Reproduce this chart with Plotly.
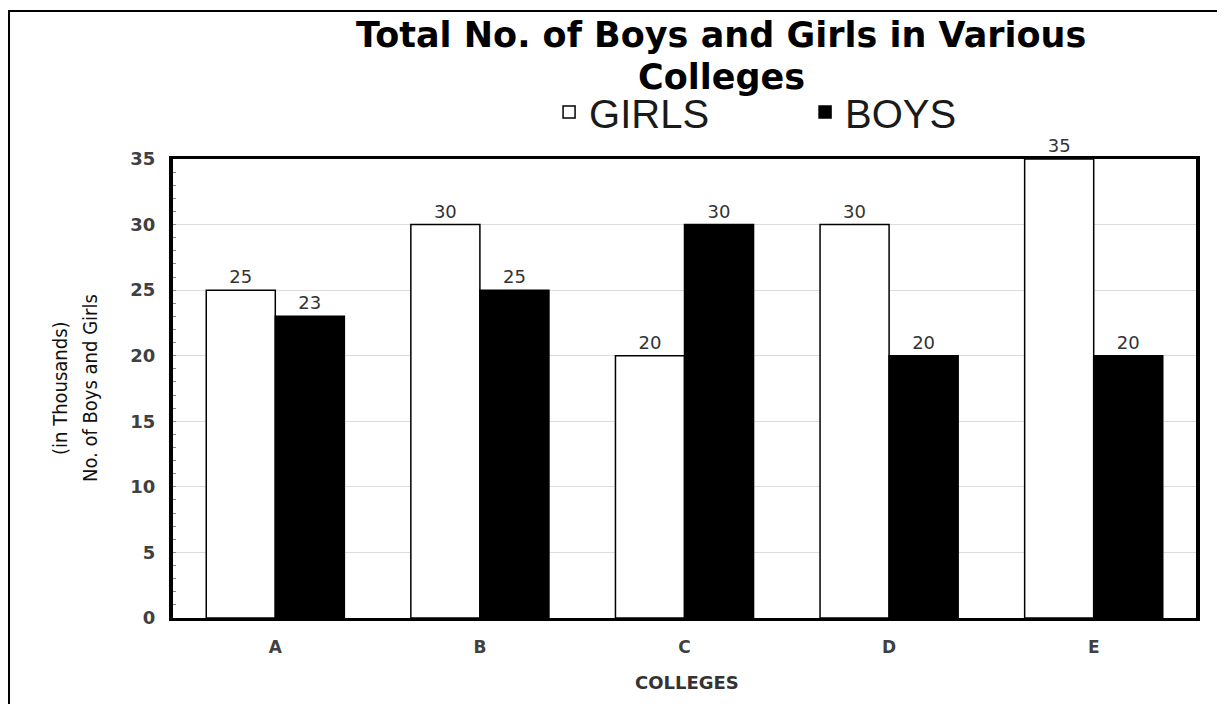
import plotly.graph_objects as go

colleges = ["A", "B", "C", "D", "E"]
girls = [25, 30, 20, 30, 35]
boys = [23, 25, 30, 20, 20]
y_ticks = [0, 5, 10, 15, 20, 25, 30, 35]

label_font = dict(family="DejaVu Sans", size=18, color="#333")

fig = go.Figure()
fig.add_trace(go.Bar(
    name="GIRLS", x=colleges, y=girls,
    marker=dict(color="white", line=dict(color="black", width=1.5)),
    text=girls, textposition="outside", cliponaxis=False,
    textfont=label_font,
))
fig.add_trace(go.Bar(
    name="BOYS", x=colleges, y=boys,
    marker=dict(color="black", line=dict(color="black", width=1.5)),
    text=boys, textposition="outside", cliponaxis=False,
    textfont=label_font,
))

fig.update_layout(
    width=1217, height=696,
    paper_bgcolor="white", plot_bgcolor="white",
    margin=dict(l=165, r=29, t=151, b=86),
    barmode="group", bargap=0.325, bargroupgap=0,
    legend=dict(
        orientation="h", x=0.3676, xanchor="left", y=1.1024, yanchor="middle",
        font=dict(family="Liberation Sans", size=40, color="#1a1a1a"),
        entrywidth=211, entrywidthmode="pixels", itemwidth=30,
        bgcolor="rgba(0,0,0,0)",
    ),
    showlegend=True,
    xaxis=dict(
        tickfont=dict(family="DejaVu Sans", size=17, color="#404040", weight="bold"),
        showline=True, linecolor="black", linewidth=2.5, mirror=True,
        ticks="", showgrid=False, ticklabelstandoff=12,
    ),
    yaxis=dict(
        range=[0, 35], tickvals=y_ticks,
        tickfont=dict(family="DejaVu Sans", size=18, color="#404040", weight="bold"),
        showline=True, linecolor="black", linewidth=4, mirror=True,
        showgrid=True, gridcolor="#dcdcdc", gridwidth=1,
        ticks="inside", ticklen=3, tickcolor="#888",
        minor=dict(dtick=1, ticks="inside", ticklen=3, tickcolor="#888", showgrid=False),
        zeroline=False, ticklabelstandoff=10,
    ),
)

title_font = dict(family="DejaVu Sans", size=35, color="black", weight="bold")
fig.add_annotation(text="Total No. of Boys and Girls in Various", xref="paper", yref="paper",
                   x=0.5357, y=1.2702, xanchor="center", yanchor="middle",
                   showarrow=False, font=title_font)
fig.add_annotation(text="Colleges", xref="paper", yref="paper",
                   x=0.5357, y=1.1786, xanchor="center", yanchor="middle",
                   showarrow=False, font=title_font)

ytitle_font = dict(family="DejaVu Sans Condensed, Liberation Sans Narrow, Liberation Sans", size=20, color="#111")
fig.add_annotation(text="(in Thousands)", xref="paper", yref="paper",
                   x=-0.1105, y=0.501, xanchor="center", yanchor="middle",
                   textangle=-90, showarrow=False, font=ytitle_font)
fig.add_annotation(text="No. of Boys and Girls", xref="paper", yref="paper",
                   x=-0.0811, y=0.501, xanchor="center", yanchor="middle",
                   textangle=-90, showarrow=False, font=ytitle_font)

fig.add_annotation(text="COLLEGES", xref="paper", yref="paper",
                   x=0.5024, y=-0.1416, xanchor="center", yanchor="middle",
                   showarrow=False,
                   font=dict(family="DejaVu Sans", size=18, color="#333", weight="bold"))

fig.add_shape(type="rect", xref="paper", yref="paper",
              x0=-0.1603, x1=1.05, y0=-0.25, y1=1.3224,
              line=dict(color="black", width=2), fillcolor="rgba(0,0,0,0)", layer="below")

fig.write_html("out.html")
